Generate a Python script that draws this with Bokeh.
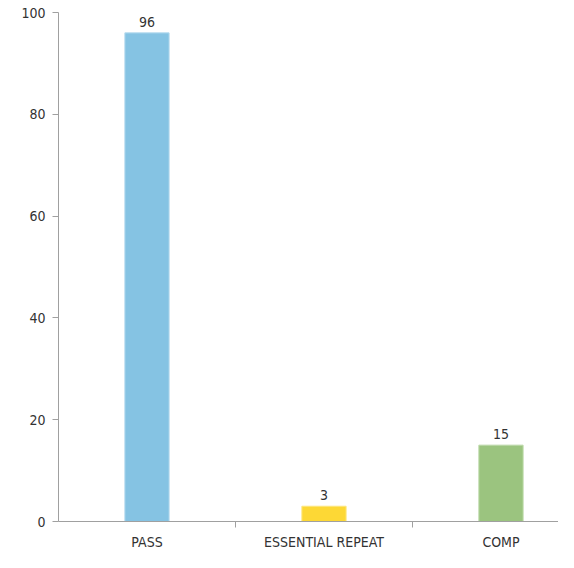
from bokeh.plotting import figure
from bokeh.models import Range1d, FixedTicker, CustomJSTickFormatter, ColumnDataSource
from bokeh.core.properties import value
from bokeh.embed import file_html
from bokeh.resources import INLINE

categories = ["PASS", "ESSENTIAL REPEAT", "COMP"]
counts = [96, 3, 15]
colors = ["#85c3e3", "#fdd835", "#9bc47f"]
borders = ["#b5daee", "#fde77f", "#bcd9a8"]
y_ticks = [0, 20, 40, 60, 80, 100]

FONT = "DejaVu Sans Condensed"
TEXT = "#333333"
AXIS = "#a0a0a0"

pos = [i + 0.5 for i in range(len(categories))]
src = ColumnDataSource(dict(x=pos, top=counts, color=colors, border=borders,
                            label=[str(c) for c in counts]))

p = figure(width=558, height=552, output_backend="svg", toolbar_location=None,
           x_range=Range1d(0, 2.825), y_range=Range1d(0, 100),
           min_border_left=58, min_border_right=0, min_border_top=12, min_border_bottom=20)
p.outline_line_color = None
p.xgrid.grid_line_color = None
p.ygrid.grid_line_color = None
p.background_fill_color = "white"
p.border_fill_color = "white"

p.vbar(x="x", top="top", bottom=0, width=0.25, source=src,
       fill_color="color", line_color="border", line_width=1)
p.text(x="x", y="top", text="label", source=src, text_align="center",
       text_baseline="bottom", y_offset=-6, text_font=value(FONT),
       text_font_size="14px", text_color=TEXT)

xa = p.xaxis[0]
xa.ticker = FixedTicker(ticks=pos, minor_ticks=[1, 2])
xa.formatter = CustomJSTickFormatter(args=dict(cats=categories),
                                     code="return cats[Math.floor(tick)] || '';")
xa.major_tick_out = 0
xa.major_tick_in = 0
xa.minor_tick_out = 6
xa.minor_tick_in = 0
xa.minor_tick_line_color = AXIS
xa.axis_line_color = AXIS
xa.major_label_standoff = 6
xa.major_label_text_font = FONT
xa.major_label_text_font_size = "14px"
xa.major_label_text_color = TEXT

ya = p.yaxis[0]
ya.ticker = FixedTicker(ticks=y_ticks)
ya.major_tick_out = 6
ya.major_tick_in = 0
ya.minor_tick_line_color = None
ya.major_tick_line_color = AXIS
ya.axis_line_color = AXIS
ya.major_label_standoff = 7
ya.major_label_text_font = FONT
ya.major_label_text_font_size = "14px"
ya.major_label_text_color = TEXT

open("out.html", "w").write(file_html(p, INLINE))
